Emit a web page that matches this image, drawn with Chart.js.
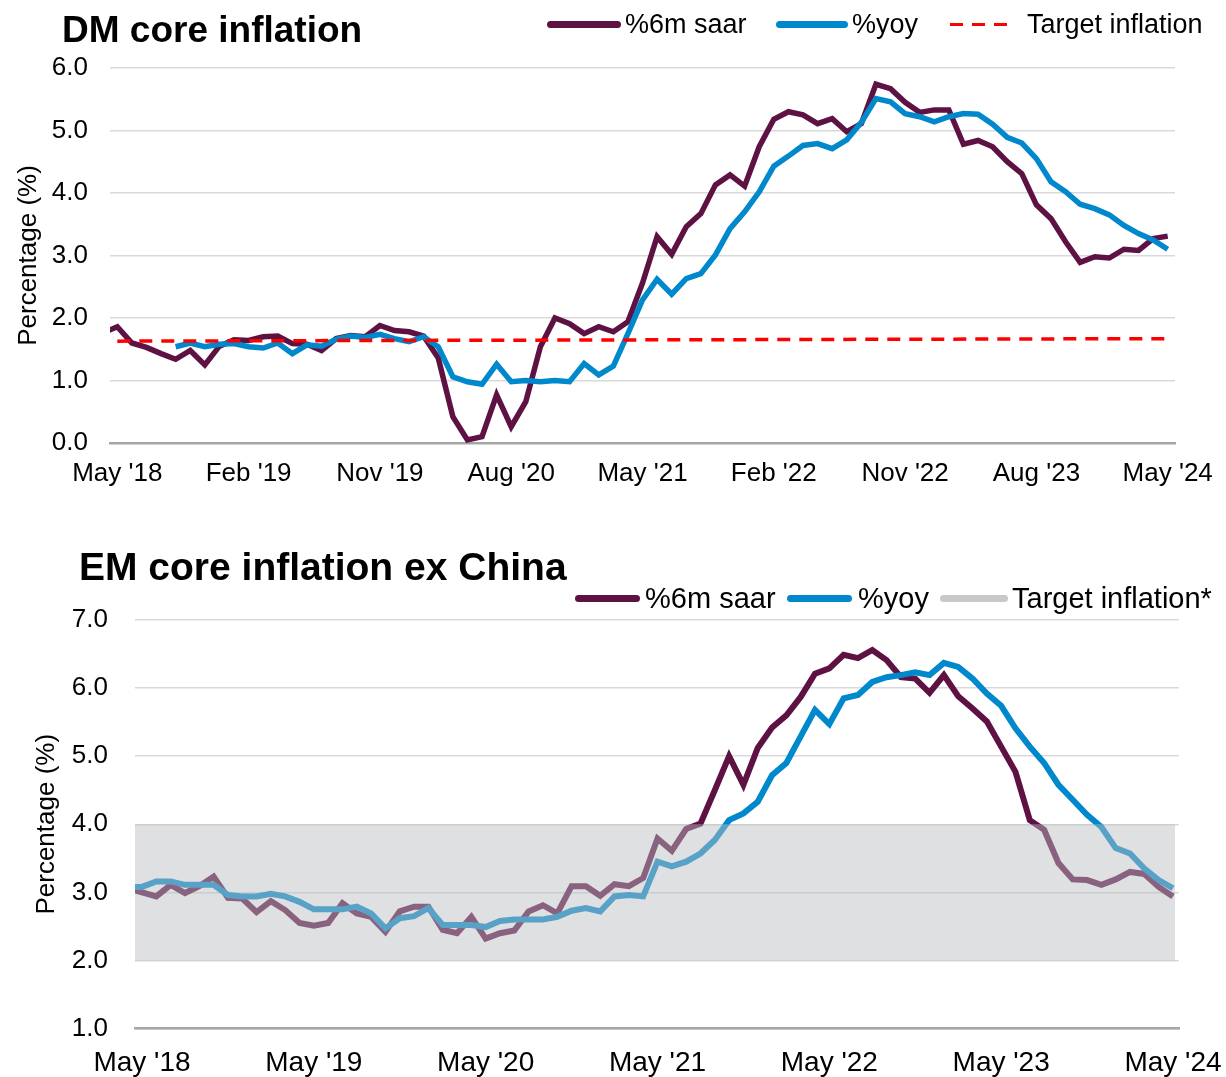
<!DOCTYPE html>
<html>
<head>
<meta charset="utf-8">
<script src="https://cdn.jsdelivr.net/npm/chart.js@4.4.1/dist/chart.umd.min.js"></script>
<style>
  body { margin: 0; background: #fff; font-family: "Liberation Sans", Arial, sans-serif; color: #000; }
  #wrap { position: relative; width: 1226px; height: 1077px; overflow: hidden; }
  .box { position: absolute; left: 0; width: 1226px; }
  .title { position: absolute; font-weight: bold; white-space: nowrap; z-index: 2; }
  .lg { position: absolute; height: 7px; border-radius: 3.5px; z-index: 2; }
  .lt { position: absolute; white-space: nowrap; z-index: 2; }
</style>
</head>
<body>
<div id="wrap">
  <div class="box" style="top:0;height:500px"><canvas id="dm"></canvas></div>
  <div class="box" style="top:520px;height:557px"><canvas id="em"></canvas></div>

  <div class="title" style="left:62px;top:11px;font-size:37px;line-height:37px">DM core inflation</div>
  <div class="lg" style="left:547px;top:20.5px;width:74px;background:#5E1244"></div>
  <div class="lt" style="left:625px;top:9px;font-size:27px;line-height:30px">%6m saar</div>
  <div class="lg" style="left:776px;top:20.5px;width:72px;background:#0088CC"></div>
  <div class="lt" style="left:852px;top:9px;font-size:27px;line-height:30px">%yoy</div>
  <div class="lg" style="left:950px;top:22.5px;width:59px;height:3.5px;border-radius:0;background:repeating-linear-gradient(90deg,#FF0000 0 13px,transparent 13px 22px)"></div>
  <div class="lt" style="left:1027px;top:9px;font-size:27px;line-height:30px">Target inflation</div>

  <div class="title" style="left:79px;top:547px;font-size:39px;line-height:39px">EM core inflation ex China</div>
  <div class="lg" style="left:575px;top:594.5px;width:65px;background:#5E1244"></div>
  <div class="lt" style="left:645px;top:582px;font-size:29px;line-height:32px">%6m saar</div>
  <div class="lg" style="left:787px;top:594.5px;width:65px;background:#0088CC"></div>
  <div class="lt" style="left:858px;top:582px;font-size:29px;line-height:32px">%yoy</div>
  <div class="lg" style="left:940px;top:594.5px;width:68px;background:#C8C8C8"></div>
  <div class="lt" style="left:1012px;top:582px;font-size:29px;line-height:32px">Target inflation*</div>
</div>

<script>
// Données : un point par mois, le premier = Apr '18 (x = -1), puis May '18 (x = 0) ... May '24 (x = 72)
const dmTickPos = [0, 9, 18, 27, 36, 45, 54, 63, 72];
const dmTickLabels = ["May '18", "Feb '19", "Nov '19", "Aug '20", "May '21", "Feb '22", "Nov '22", "Aug '23", "May '24"];
const emTickPos = [0, 12, 24, 36, 48, 60, 72];
const emTickLabels = ["May '18", "May '19", "May '20", "May '21", "May '22", "May '23", "May '24"];

const dm6mSaar = [1.76,
  1.86, 1.60, 1.53, 1.43, 1.34, 1.48, 1.25, 1.55, 1.65, 1.64,
  1.70, 1.71, 1.59, 1.58, 1.48, 1.67, 1.72, 1.70, 1.88, 1.80,
  1.78, 1.71, 1.36, 0.42, 0.05, 0.10, 0.77, 0.26, 0.66, 1.54,
  2.00, 1.91, 1.75, 1.86, 1.78, 1.94, 2.56, 3.30, 3.02, 3.46,
  3.67, 4.13, 4.29, 4.11, 4.74, 5.18, 5.30, 5.25, 5.11, 5.19,
  4.98, 5.11, 5.74, 5.67, 5.45, 5.29, 5.33, 5.33, 4.78, 4.84,
  4.74, 4.50, 4.31, 3.81, 3.59, 3.22, 2.89, 2.98, 2.96, 3.10,
  3.08, 3.27, 3.31];
const dmYoy = [null,
  null, null, null, null, 1.54, 1.60, 1.54, 1.58, 1.59, 1.54,
  1.52, 1.60, 1.43, 1.57, 1.55, 1.66, 1.71, 1.69, 1.74, 1.67,
  1.62, 1.70, 1.54, 1.06, 0.98, 0.94, 1.26, 0.98, 1.00, 0.98,
  1.00, 0.98, 1.27, 1.09, 1.23, 1.75, 2.29, 2.62, 2.38, 2.63,
  2.71, 3.01, 3.43, 3.70, 4.02, 4.43, 4.59, 4.76, 4.79, 4.71,
  4.85, 5.13, 5.51, 5.46, 5.27, 5.22, 5.14, 5.22, 5.27, 5.26,
  5.10, 4.89, 4.80, 4.55, 4.18, 4.02, 3.82, 3.75, 3.65, 3.48,
  3.35, 3.25, 3.10];
const dmTargetX = [0, 72];
const dmTarget = [1.63, 1.67];

const em6mSaar = [3.06,
  3.00, 2.94, 3.11, 2.99, 3.09, 3.23, 2.92, 2.91, 2.71, 2.87,
  2.74, 2.55, 2.51, 2.55, 2.84, 2.69, 2.64, 2.42, 2.72, 2.79,
  2.79, 2.45, 2.40, 2.64, 2.32, 2.40, 2.44, 2.72, 2.81, 2.69,
  3.09, 3.09, 2.95, 3.12, 3.09, 3.21, 3.79, 3.61, 3.93, 4.01,
  4.50, 5.00, 4.58, 5.12, 5.42, 5.60, 5.87, 6.21, 6.29, 6.49,
  6.44, 6.56, 6.41, 6.16, 6.14, 5.93, 6.19, 5.88, 5.70, 5.51,
  5.14, 4.77, 4.06, 3.92, 3.43, 3.19, 3.18, 3.11, 3.19, 3.30,
  3.27, 3.08, 2.94];
const emYoy = [3.08,
  3.08, 3.16, 3.16, 3.11, 3.11, 3.11, 2.96, 2.94, 2.94, 2.98,
  2.94, 2.86, 2.75, 2.75, 2.75, 2.79, 2.69, 2.47, 2.62, 2.65,
  2.77, 2.52, 2.52, 2.52, 2.49, 2.58, 2.60, 2.60, 2.60, 2.64,
  2.73, 2.77, 2.72, 2.94, 2.96, 2.94, 3.45, 3.38, 3.45, 3.57,
  3.77, 4.06, 4.16, 4.33, 4.72, 4.90, 5.29, 5.68, 5.47, 5.85,
  5.90, 6.09, 6.16, 6.19, 6.23, 6.19, 6.37, 6.31, 6.14, 5.92,
  5.74, 5.41, 5.14, 4.90, 4.58, 4.36, 4.14, 3.96, 3.65, 3.57,
  3.35, 3.18, 3.06];
const emBandX = [-0.91, 72.14];
const emBand = [2.0, 4.0];   // bas, haut

Chart.defaults.font.family = '"Liberation Sans", Arial, sans-serif';
Chart.defaults.color = '#000';
Chart.defaults.animation = false;

const PURPLE = '#5E1244';
const BLUE = '#0088CC';

// Helpers
const toPoints = arr => arr.map((v, i) => ({ x: i - 1, y: v }));

function yAxis(min, max, width, tickPad, titlePad, size) {
  return {
    min, max,
    ticks: { stepSize: 1, padding: tickPad, font: { size }, callback: v => v.toFixed(1) },
    grid: { color: '#D9D9D9', lineWidth: 1.5, drawTicks: false },
    border: { display: false },
    title: { display: true, text: 'Percentage (%)', font: { size }, padding: { top: titlePad, bottom: 0 } },
    afterFit: s => { s.width = width; }
  };
}

// padding 0 (sinon Chart.js réduit la zone du graphe), décalage vertical via lineHeight
function xAxis(min, max, pos, labels, lineHeight, size, height) {
  return {
    type: 'linear', min, max,
    afterBuildTicks: s => { s.ticks = pos.map(v => ({ value: v })); },
    ticks: { autoSkip: false, maxRotation: 0, padding: 0, font: { size, lineHeight }, callback: (v, i) => labels[i] },
    grid: { display: false, drawTicks: false },
    border: { display: true, color: '#A6A6A6', width: 2.5 },
    afterFit: s => { s.height = height; }
  };
}

function line(label, data, color, width, order) {
  return { label, data, borderColor: color, borderWidth: width, pointRadius: 0, tension: 0, fill: false, order };
}

// Graphique DM
new Chart(document.getElementById('dm'), {
  type: 'line',
  data: {
    datasets: [
      line('%6m saar', toPoints(dm6mSaar), PURPLE, 5.5, 2),
      line('%yoy', toPoints(dmYoy), BLUE, 5.5, 1),
      Object.assign(line('Target inflation', dmTargetX.map((x, i) => ({ x, y: dmTarget[i] })), '#FF0000', 3.5, 0),
        { borderDash: [13, 9] })
    ]
  },
  options: {
    responsive: true,
    maintainAspectRatio: false,
    layout: { padding: { top: 68, right: 51, left: 0, bottom: 0 } },
    plugins: { legend: { display: false }, tooltip: { enabled: false } },
    scales: {
      x: xAxis(-0.5, 72.5, dmTickPos, dmTickLabels, 2.35, 26, 57),
      y: yAxis(0, 6, 110, 22, 13, 26)
    }
  }
});

// Graphique EM (la bande cible est dessinée par-dessus, semi-transparente)
new Chart(document.getElementById('em'), {
  type: 'line',
  data: {
    datasets: [
      line('%6m saar', toPoints(em6mSaar), PURPLE, 6, 2),
      line('%yoy', toPoints(emYoy), BLUE, 6, 1),
      {
        label: 'Target inflation*',
        data: emBandX.map(x => ({ x, y: emBand[1] })),
        borderColor: 'transparent', borderWidth: 0, pointRadius: 0,
        backgroundColor: 'rgba(188,189,193,0.47)',
        fill: { value: emBand[0] },
        order: 0
      }
    ]
  },
  options: {
    responsive: true,
    maintainAspectRatio: false,
    layout: { padding: { top: 100, right: 47, left: 0, bottom: 0 } },
    plugins: { legend: { display: false }, tooltip: { enabled: false } },
    scales: {
      x: xAxis(-0.49, 72.42, emTickPos, emTickLabels, 2.49, 28, 48.5),
      y: yAxis(1, 7, 135, 27, 31, 26)
    }
  }
});
</script>
</body>
</html>
